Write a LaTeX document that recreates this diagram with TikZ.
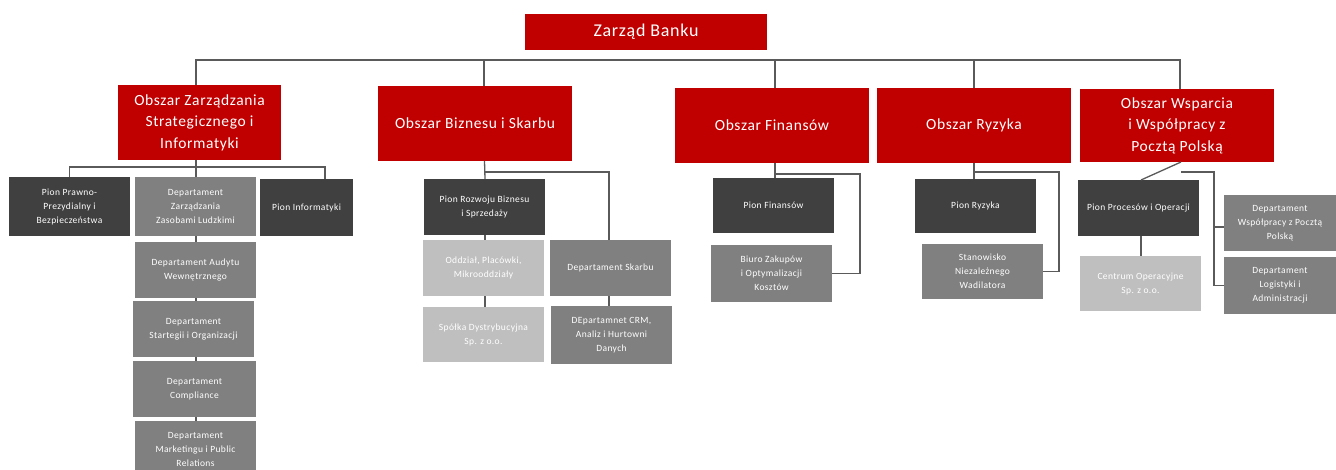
\documentclass[tikz,border=0pt]{standalone}
\usepackage{fontspec}
\setmainfont{Carlito}[LetterSpace=4]
\definecolor{boardred}{HTML}{C00000}
\definecolor{darkbox}{HTML}{404040}
\definecolor{midbox}{HTML}{808080}
\definecolor{lightbox}{HTML}{BFBFBF}
\definecolor{linegray}{HTML}{5A5A5A}
\tikzset{
  unit/.style={anchor=north west, inner sep=0pt, outer sep=0pt, align=center, text=white},
  areabox/.style={unit, fill=boardred, font=\fontsize{15.5}{21.5}\selectfont},
  boardbox/.style={areabox, font=\fontsize{18}{22}\selectfont},
  piondark/.style={unit, fill=darkbox, font=\fontsize{9.5}{14}\selectfont},
  deptmid/.style={unit, fill=midbox, font=\fontsize{9.5}{14}\selectfont},
  deptlight/.style={unit, fill=lightbox, font=\fontsize{9.5}{14}\selectfont},
  conn/.style={draw=linegray, line width=1.3pt}
}
% #1 name, #2 style, #3-#6 corners (x1,y1,x2,y2), #7 text
\newcommand\orgbox[7]{%
  \node[#2, minimum width={(#5-#3)*1pt}, minimum height={(#6-#4)*1pt}] (#1) at (#3,#4) {#7};}
\begin{document}
\begin{tikzpicture}[x=1pt,y=-1pt]
\clip (0,0) rectangle (1336,470);
\fill[white] (0,0) rectangle (1336,470);

% board and areas
\orgbox{zb}{boardbox}{525}{14}{767}{50}{Zarząd Banku}
\orgbox{oz}{areabox}{118}{85}{281}{160}{Obszar Zarządzania\\Strategicznego i\\Informatyki}
\orgbox{ob}{areabox}{378}{86}{572}{161}{Obszar Biznesu i Skarbu}
\orgbox{of}{areabox}{675}{88}{869}{163}{Obszar Finansów}
\orgbox{or}{areabox}{877}{88}{1071}{163}{Obszar Ryzyka}
\orgbox{ow}{areabox}{1080}{89}{1274}{162}{Obszar Wsparcia\\i Współpracy z\\Pocztą Polską}

% strategy and IT area
\orgbox{pp1}{piondark}{9}{177}{130}{236}{Pion Prawno-\\Prezydialny i\\Bezpieczeństwa}
\orgbox{dz}{deptmid}{135}{177}{256}{236}{Departament\\Zarządzania\\Zasobami Ludzkimi}
\orgbox{pi}{piondark}{260}{179}{353}{236}{Pion Informatyki}
\orgbox{da}{deptmid}{135}{242}{256}{298}{Departament Audytu\\Wewnętrznego}
\orgbox{dst}{deptmid}{133}{301}{254}{357}{Departament\\Startegii i Organizacji}
\orgbox{dcp}{deptmid}{133}{361}{256}{417}{Departament\\Compliance}
\orgbox{dm}{deptmid}{135}{421}{256}{478}{Departament\\Marketingu i Public\\Relations}

% business and treasury area
\orgbox{pr}{piondark}{424}{179}{545}{235}{Pion Rozwoju Biznesu\\i Sprzedaży}
\orgbox{od}{deptlight}{423}{240}{544}{296}{Oddział, Placówki,\\Mikrooddziały}
\orgbox{sp}{deptlight}{423}{307}{544}{362}{Spółka Dystrybucyjna\\Sp. z o.o.}
\orgbox{ds}{deptmid}{550}{240}{671}{296}{Departament Skarbu}
\orgbox{dc}{deptmid}{551}{306}{672}{364}{DEpartamnet CRM,\\Analiz i Hurtowni\\Danych}

% finance area
\orgbox{pf}{piondark}{713}{178}{834}{233}{Pion Finansów}
\orgbox{bz}{deptmid}{711}{245}{832}{302}{Biuro Zakupów\\i Optymalizacji\\Kosztów}

% risk area
\orgbox{py}{piondark}{915}{179}{1036}{233}{Pion Ryzyka}
\orgbox{sn}{deptmid}{922}{244}{1043}{299}{Stanowisko\\Niezależnego\\Wadilatora}

% support area
\orgbox{pp}{piondark}{1078}{180}{1199}{236}{Pion Procesów i Operacji}
\orgbox{co}{deptlight}{1080}{256}{1201}{311}{Centrum Operacyjne\\Sp. z o.o.}
\orgbox{dw}{deptmid}{1224}{195}{1336}{251}{Departament\\Współpracy z Pocztą\\Polską}
\orgbox{dl}{deptmid}{1224}{257}{1336}{314}{Departament\\Logistyki i\\Administracji}

% main bus under the board
\coordinate (busy) at (0,60);
\draw[conn] ([xshift=-3.5pt]oz.north) -- ([xshift=-3.5pt]oz.north |- busy) -| ([xshift=3pt]ow.north);
\draw[conn] ([xshift=9pt]ob.north) -- ([xshift=9pt]ob.north |- busy);
\draw[conn] ([xshift=3pt]of.north) -- ([xshift=3pt]of.north |- busy);
\draw[conn] (or.north) -- (or.north |- busy);

% strategy and IT branch
\coordinate (zy) at (0,167);
\draw[conn] ([xshift=-3.5pt]oz.south) -- ([xshift=0.5pt]dz.north);
\draw[conn] (pp1.north) -- (pp1.north |- zy) -| ([xshift=18.5pt]pi.north);
\draw[conn] ([xshift=0.5pt]dz.south) -- ([xshift=0.5pt]da.north);
\draw[conn] ([xshift=0.5pt]da.south) -- ([xshift=2.5pt]dst.north);
\draw[conn] ([xshift=2.5pt]dst.south) -- ([xshift=1.5pt]dcp.north);
\draw[conn] ([xshift=1.5pt]dcp.south) -- ([xshift=0.5pt]dm.north);

% business branch
\coordinate (by) at (0,172);
\draw[conn] ([xshift=9.5pt]ob.south) -- ([xshift=0.5pt]pr.north);
\draw[conn] ([xshift=9.5pt]ob.south |- by) -| ([xshift=-1.5pt]ds.north);
\draw[conn] ([xshift=0.5pt]pr.south) -- ([xshift=1.5pt]od.north);
\draw[conn] ([xshift=1.5pt]od.south) -- ([xshift=1.5pt]sp.north);
\draw[conn] ([xshift=-1.5pt]ds.south) -- ([xshift=-2.5pt]dc.north);

% finance branch
\coordinate (fy) at (0,174);
\coordinate (fx) at (860,0);
\draw[conn] ([xshift=3pt]of.south) -- ([xshift=1.5pt]pf.north);
\draw[conn] ([xshift=3pt]of.south |- fy) -| (fx |- bz.east) -- (bz.east);

% risk branch
\coordinate (ry) at (0,172);
\coordinate (rx) at (1059,0);
\draw[conn] (or.south) -- ([xshift=-1.5pt]py.north);
\draw[conn] (or.south |- ry) -| (rx |- sn.east) -- (sn.east);

% support branch
\coordinate (wy) at (0,172);
\coordinate (wx) at (1214,0);
\draw[conn] ([xshift=4pt]ow.south) -- ([xshift=2.5pt]pp.north);
\draw[conn] ([xshift=2.5pt]pp.south) -- ([xshift=0.5pt]co.north);
\draw[conn] ([xshift=4pt]ow.south |- wy) -| (wx |- dl.west) -- (dl.west);
\draw[conn] ([yshift=-4pt]wx |- dw.west) -- ([yshift=-4pt]dw.west);
\end{tikzpicture}
\end{document}
